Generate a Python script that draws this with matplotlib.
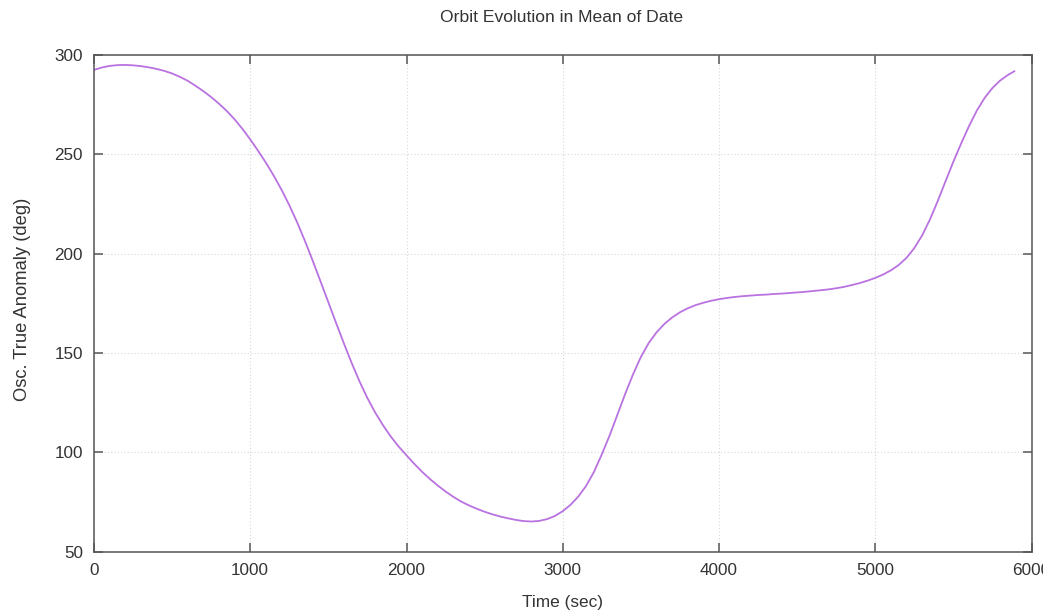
import matplotlib
matplotlib.use("Agg")
import matplotlib.pyplot as plt

time_sec = [0, 50, 100, 150, 200, 250, 300, 350, 400, 450,
            500, 550, 600, 650, 700, 750, 800, 850, 900, 950,
            1000, 1050, 1100, 1150, 1200, 1250, 1300, 1350, 1400, 1450,
            1500, 1550, 1600, 1650, 1700, 1750, 1800, 1850, 1900, 1950,
            2000, 2050, 2100, 2150, 2200, 2250, 2300, 2350, 2400, 2450,
            2500, 2550, 2600, 2650, 2700, 2750, 2800, 2850, 2900, 2950,
            3000, 3050, 3100, 3150, 3200, 3250, 3300, 3350, 3400, 3450,
            3500, 3550, 3600, 3650, 3700, 3750, 3800, 3850, 3900, 3950,
            4000, 4050, 4100, 4150, 4200, 4250, 4300, 4350, 4400, 4450,
            4500, 4550, 4600, 4650, 4700, 4750, 4800, 4850, 4900, 4950,
            5000, 5050, 5100, 5150, 5200, 5250, 5300, 5350, 5400, 5450,
            5500, 5550, 5600, 5650, 5700, 5750, 5800, 5850, 5890]
true_anomaly = [292.5, 293.7, 294.5, 294.9, 295.0, 294.8, 294.4, 293.8, 293.0, 292.0,
                290.7, 289.0, 287.0, 284.5, 281.8, 278.8, 275.5, 271.8, 267.6, 262.8,
                257.5, 251.8, 245.8, 239.3, 232.2, 224.4, 215.8, 206.4, 196.4, 186.0,
                175.5, 165.0, 154.7, 144.8, 135.6, 127.3, 120.0, 113.6, 107.9, 102.9,
                98.5, 94.2, 90.2, 86.6, 83.3, 80.3, 77.6, 75.2, 73.3, 71.6,
                70.1, 68.8, 67.7, 66.8, 66.0, 65.4, 65.2, 65.5, 66.4, 68.0,
                70.4, 73.6, 77.8, 83.2, 90.2, 99.0, 108.5, 119.0, 129.5, 139.3,
                148.0, 155.0, 160.4, 164.6, 167.9, 170.5, 172.5, 174.1, 175.3, 176.3,
                177.1, 177.7, 178.2, 178.6, 178.9, 179.2, 179.4, 179.7, 179.9, 180.2,
                180.5, 180.8, 181.2, 181.6, 182.0, 182.6, 183.3, 184.2, 185.2, 186.4,
                187.8, 189.5, 191.6, 194.3, 197.9, 202.8, 209.2, 217.2, 226.5, 236.5,
                246.3, 255.5, 264.2, 272.0, 278.4, 283.4, 287.2, 290.0, 291.8]

x_ticks = [0, 1000, 2000, 3000, 4000, 5000, 6000]
y_ticks = [50, 100, 150, 200, 250, 300]

plt.rcParams['font.family'] = ['Liberation Sans', 'DejaVu Sans']
text_color = '#333333'

fig = plt.figure(figsize=(10.43, 6.14), dpi=100)
ax = fig.add_axes([94 / 1043, 1 - 551.7 / 614, (1031.5 - 94) / 1043, (551.7 - 55) / 614])

ax.plot(time_sec, true_anomaly, color='#b972e0', linewidth=1.3)

ax.set_xlim(0, 6000)
ax.set_ylim(50, 300)
ax.set_xticks(x_ticks)
ax.set_yticks(y_ticks)
ax.grid(True, color='#d8d8d8', linestyle=(0, (1, 2)), linewidth=0.8)

for s in ax.spines.values():
    s.set_color('#555555')
    s.set_linewidth(1.1)

ax.tick_params(axis='both', which='major', direction='in', length=6.5, width=1.1,
               color='#555555', labelsize=12.3, labelcolor=text_color,
               top=True, right=True)
ax.tick_params(axis='y', pad=8)
ax.tick_params(axis='x', pad=8)

fig.text(562 / 1043, 1 - 17 / 614, 'Orbit Evolution in Mean of Date',
         ha='center', va='center', fontsize=12.6, color=text_color)
fig.text(563 / 1043, 1 - 603 / 614, 'Time (sec)',
         ha='center', va='center', fontsize=12.4, color=text_color)
fig.text(23 / 1043, 1 - 299 / 614, 'Osc. True Anomaly (deg)', rotation=90,
         ha='center', va='center', fontsize=13.2, color=text_color)

fig.savefig('out.png', dpi=100)
